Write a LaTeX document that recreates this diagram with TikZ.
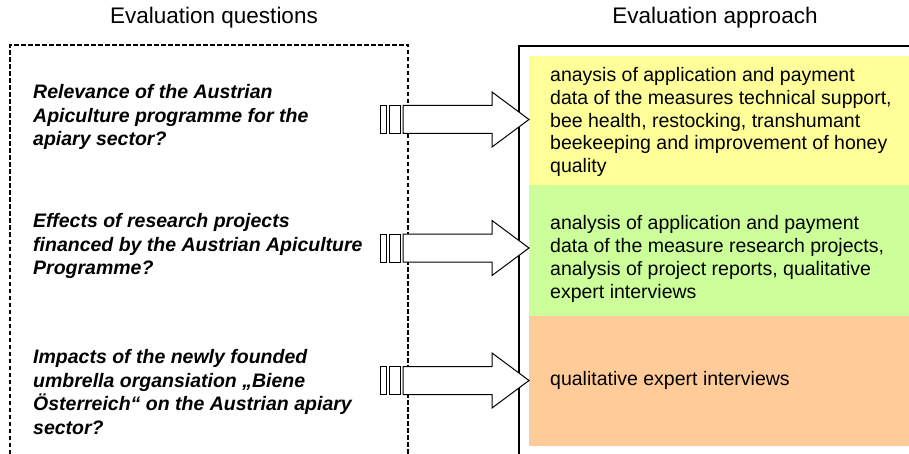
\documentclass[tikz,border=0pt]{standalone}
\usepackage{fontspec}
\setmainfont{Liberation Sans}
\usetikzlibrary{positioning}
\definecolor{yellowfill}{HTML}{FFFF99}
\definecolor{greenfill}{HTML}{CCFF99}
\definecolor{orangefill}{HTML}{FFCC99}
\begin{document}
\begin{tikzpicture}[x=1pt, y=-1pt,
        title/.style={font=\fontsize{22.5}{26}\selectfont},
        question/.style={anchor=west, align=left, inner sep=0pt,
          font=\fontsize{19.5}{23.5}\selectfont\bfseries\itshape},
        approach/.style={anchor=west, align=left, inner sep=0pt,
          font=\fontsize{19.5}{22.8}\selectfont},
        dashedframe/.style={line width=2pt, dash pattern=on 4.5pt off 2.5pt},
        solidframe/.style={line width=1.3pt},
        blockarrow/.style={draw, fill=white, line width=1pt},
        stub/.style={draw, fill=white, line width=0.7pt}
      ]
        \useasboundingbox (0,0) rectangle (909,454);

        % colour bands of the approach column
        \fill[yellowfill] (529,56) rectangle (909,185);
        \fill[greenfill] (529,185) rectangle (909,316);
        \fill[orangefill] (529,316) rectangle (909,446);

        % frames
        \draw[dashedframe] (10,454) -- (10,45) -- (408,45) -- (408,454);
        \draw[solidframe] (519,454) -- (519,46) -- (909,46);

        \node[title] (qtitle) at (214,18) {Evaluation questions};
        \node[title] (atitle) at (715,18) {Evaluation approach};

        \node[question] (relevance) at (33,117) {Relevance of the Austrian\\Apiculture programme for the\\apiary sector?};
        \node[question] (effects) at (33,246) {Effects of research projects\\financed by the Austrian Apiculture\\Programme?};
        \node[question] (impacts) at (33,392) {Impacts of the newly founded\\umbrella organsiation „Biene\\Österreich“ on the Austrian apiary\\sector?};

        \node[approach] (payment) at (550,122) {anaysis of application and payment\\data of the measures technical support,\\bee health, restocking, transhumant\\beekeeping and improvement of honey\\quality};
        \node[approach] (research) at (550,259) {analysis of application and payment\\data of the measure research projects,\\analysis of project reports, qualitative\\expert interviews};
        \node[approach] (experts) at (550,380) {qualitative expert interviews};

        % block arrows from questions to approaches
        \foreach \c in {119.5,248,380.5} {
          \draw[stub] (380.5,\c-14) rectangle (386,\c+14);
          \draw[stub] (389,\c-14) rectangle (400,\c+14);
          \draw[blockarrow] (403,\c-14) -- (492,\c-14) -- (492,\c-27.5) -- (529,\c)
            -- (492,\c+27.5) -- (492,\c+14) -- (403,\c+14) -- cycle;
        }
      \end{tikzpicture}
\end{document}
